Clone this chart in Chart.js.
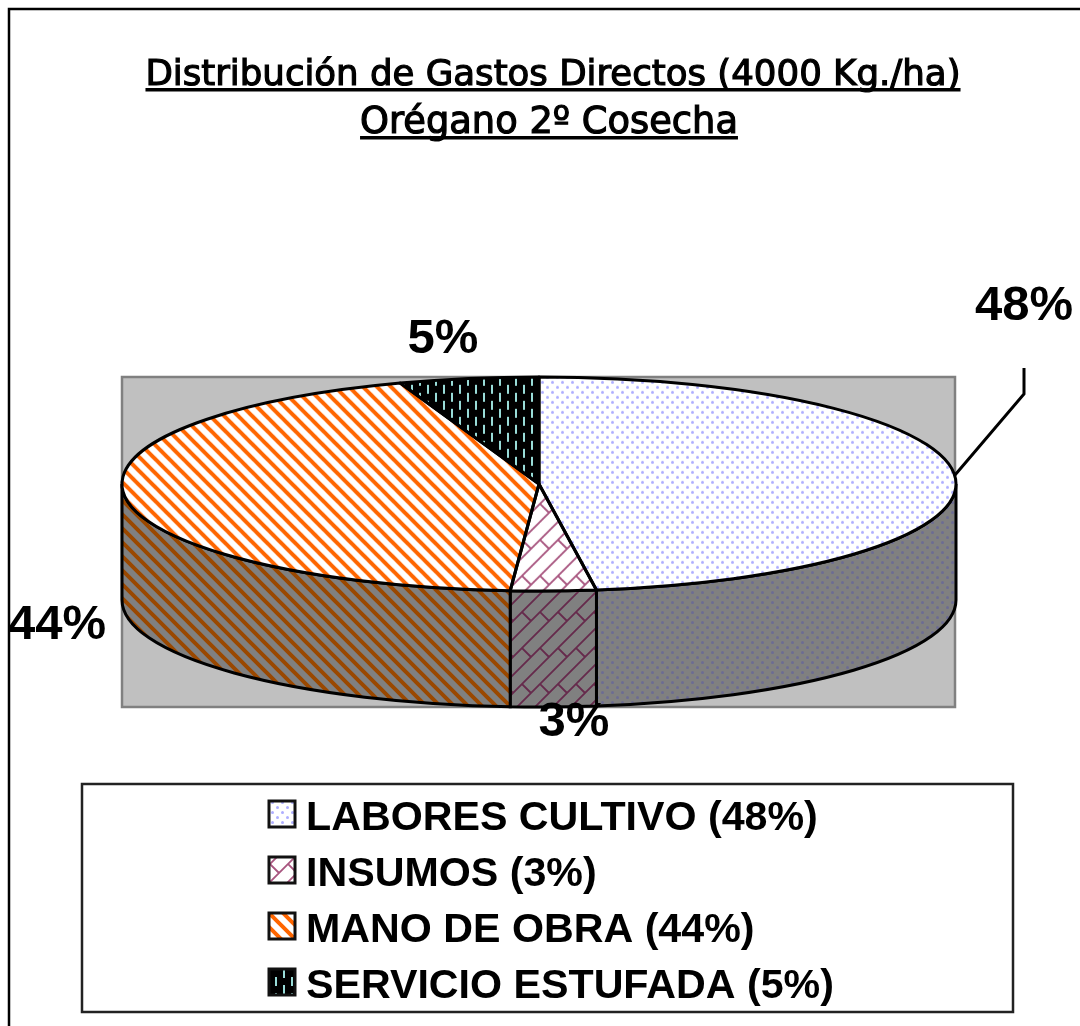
<!DOCTYPE html>
<html>
<head>
<meta charset="utf-8">
<style>
  html, body { margin: 0; padding: 0; background: #fff; }
  canvas { display: block; }
</style>
<script src="https://cdn.jsdelivr.net/npm/chart.js@4"></script>
</head>
<body>
<canvas id="pie" width="1080" height="1026"></canvas>
<script>
const titleLines = ['Distribución de Gastos Directos (4000 Kg./ha)', 'Orégano 2º Cosecha'];
const categories = ['LABORES CULTIVO (48%)', 'INSUMOS (3%)', 'MANO DE OBRA (44%)', 'SERVICIO ESTUFADA (5%)'];
const values = [47.8, 3.3, 43.5, 5.4];
const pctLabels = ['48%', '3%', '44%', '5%'];

const RX = 417, RY = 107, DEPTH = 116;
const SQUASH = RY / RX;

function tile(w, h, bg, paint) {
    const c = document.createElement('canvas');
    c.width = w;
    c.height = h;
    const g = c.getContext('2d');
    g.fillStyle = bg;
    g.fillRect(0, 0, w, h);
    paint(g);
    return c;
}

function dots(fg, bg) {
    return tile(10, 10, bg, g => {
        g.fillStyle = fg;
        for (const p of [2.5, 7.5]) {
            g.beginPath();
            g.arc(p, p, 1.5, 0, Math.PI * 2);
            g.fill();
        }
    });
}

function bricks(fg, bg) {
    return tile(36, 36, bg, g => {
        g.strokeStyle = fg;
        g.lineWidth = 1.8;
        g.beginPath();
        for (let k = 0; k <= 72; k += 18) {
            g.moveTo(k + 1, -1);
            g.lineTo(-1, k + 1);
        }
        for (const ox of [-36, 0, 36]) {
            for (const oy of [-36, 0, 36]) {
                g.moveTo(ox, oy);
                g.lineTo(ox + 9, oy + 9);
                g.moveTo(ox + 18, oy);
                g.lineTo(ox + 27, oy + 9);
            }
        }
        g.stroke();
    });
}

function stripes(fg, bg) {
    return tile(14, 14, bg, g => {
        g.strokeStyle = fg;
        g.lineWidth = 4;
        g.beginPath();
        for (let k = -14; k <= 14; k += 14) {
            g.moveTo(k - 2, -2);
            g.lineTo(k + 16, 16);
        }
        g.stroke();
    });
}

function dashes(fg, bg) {
    return tile(16, 16, bg, g => {
        g.fillStyle = fg;
        g.fillRect(3, 1, 2, 9);
        g.fillRect(11, 9, 2, 7);
        g.fillRect(11, 0, 2, 2);
    });
}

const ctx = document.getElementById('pie').getContext('2d');

function pat(c) {
    return ctx.createPattern(c, 'repeat');
}

// top of the pie gets drawn under a vertical squash, so undo it on the pattern
function squashedPat(c) {
    const p = pat(c);
    p.setTransform(new DOMMatrix().scale(1, 1 / SQUASH));
    return p;
}

const topTiles = [
    dots('#aeaeff', '#ffffff'),
    bricks('#a8557f', '#ffffff'),
    stripes('#ff6600', '#ffffff'),
    dashes('#99dcd8', '#000000')
];
const wallTiles = [
    dots('#6c6c94', '#808080'),
    bricks('#662a4c', '#808080'),
    stripes('#9a4800', '#808080'),
    dashes('#99dcd8', '#000000')
];
const wallFills = wallTiles.map(pat);
const swatchFills = topTiles.map(pat);

const pie3d = {
    id: 'pie3d',
    beforeDraw(chart) {
        const c = chart.ctx;
        c.save();
        c.fillStyle = '#ffffff';
        c.fillRect(0, 0, chart.width, chart.height);
        // frame, open on the right and at the bottom
        c.strokeStyle = '#000000';
        c.lineWidth = 2.5;
        c.beginPath();
        c.moveTo(9, 1026);
        c.lineTo(9, 9);
        c.lineTo(1080, 9);
        c.stroke();
        // plot area
        c.fillStyle = '#c0c0c0';
        c.fillRect(122, 377, 833, 330);
        c.strokeStyle = '#808080';
        c.strokeRect(122, 377, 833, 330);
        c.restore();
    },
    beforeDatasetsDraw(chart) {
        const c = chart.ctx;
        c.save();
        c.lineWidth = 3;
        c.strokeStyle = '#000000';
        chart.getDatasetMeta(0).data.forEach((arc, i) => {
            const a0 = Math.max(arc.startAngle, 0);
            const a1 = Math.min(arc.endAngle, Math.PI);
            if (a1 <= a0) return;
            c.beginPath();
            c.ellipse(arc.x, arc.y, RX, RY, 0, a0, a1);
            c.ellipse(arc.x, arc.y + DEPTH, RX, RY, 0, a1, a0, true);
            c.closePath();
            c.fillStyle = wallFills[i];
            c.fill();
            c.stroke();
        });
        c.restore();
    },
    beforeDatasetDraw(chart) {
        const arc = chart.getDatasetMeta(0).data[0];
        const c = chart.ctx;
        c.save();
        c.translate(arc.x, arc.y);
        c.scale(1, SQUASH);
        c.translate(-arc.x, -arc.y);
    },
    afterDatasetDraw(chart) {
        const c = chart.ctx;
        c.restore();
        c.save();
        c.lineWidth = 3;
        c.strokeStyle = '#000000';
        c.lineJoin = 'round';
        chart.getDatasetMeta(0).data.forEach(arc => {
            c.beginPath();
            c.moveTo(arc.x, arc.y);
            c.ellipse(arc.x, arc.y, RX, RY, 0, arc.startAngle, arc.endAngle);
            c.closePath();
            c.stroke();
        });
        c.restore();
    },
    afterDraw(chart) {
        const c = chart.ctx;
        c.save();
        c.fillStyle = '#000000';
        c.textBaseline = 'alphabetic';

        // title
        c.textAlign = 'center';
        c.strokeStyle = '#000000';
        c.lineWidth = 1.2;
        titleLines.forEach((line, i) => {
            const cx = i ? 549 : 553;
            const y = i ? 133 : 85;
            c.font = (i ? '36.8' : '35.6') + 'px "DejaVu Sans"';
            c.fillText(line, cx, y);
            c.strokeText(line, cx, y);
            const w = c.measureText(line).width;
            c.fillRect(cx - w / 2, y + 3, w, 3.5);
        });

        // slice labels and the leader for the first one
        c.font = 'bold 49px "Liberation Sans"';
        const labelAt = [[1024, 320], [574, 736], [57, 639], [443, 353]];
        pctLabels.forEach((t, i) => c.fillText(t, labelAt[i][0], labelAt[i][1]));
        c.lineWidth = 3;
        c.beginPath();
        c.moveTo(955, 475);
        c.lineTo(1024, 394);
        c.lineTo(1024, 368);
        c.stroke();

        // legend
        c.lineWidth = 2.5;
        c.strokeStyle = '#222222';
        c.strokeRect(82, 784, 931, 228);
        c.font = 'bold 41.2px "Liberation Sans"';
        c.textAlign = 'left';
        chart.data.labels.forEach((t, i) => {
            const y = 801 + i * 56;
            c.fillStyle = swatchFills[i];
            c.fillRect(269, y, 26, 26);
            c.strokeStyle = '#111111';
            c.lineWidth = 3;
            c.strokeRect(269, y, 26, 26);
            c.fillStyle = '#000000';
            c.fillText(t, 306, y + 29);
        });
        c.restore();
    }
};

const chart = new Chart(ctx, {
    type: 'pie',
    data: {
        labels: categories,
        datasets: [{
            data: values,
            backgroundColor: topTiles.map(squashedPat),
            borderWidth: 0,
            radius: RX
        }]
    },
    options: {
        responsive: false,
        animation: false,
        events: [],
        layout: {
            padding: { top: 0, right: 2, bottom: 58, left: 0 }
        },
        plugins: {
            legend: { display: false },
            tooltip: { enabled: false }
        }
    },
    plugins: [pie3d]
});
</script>
</body>
</html>
